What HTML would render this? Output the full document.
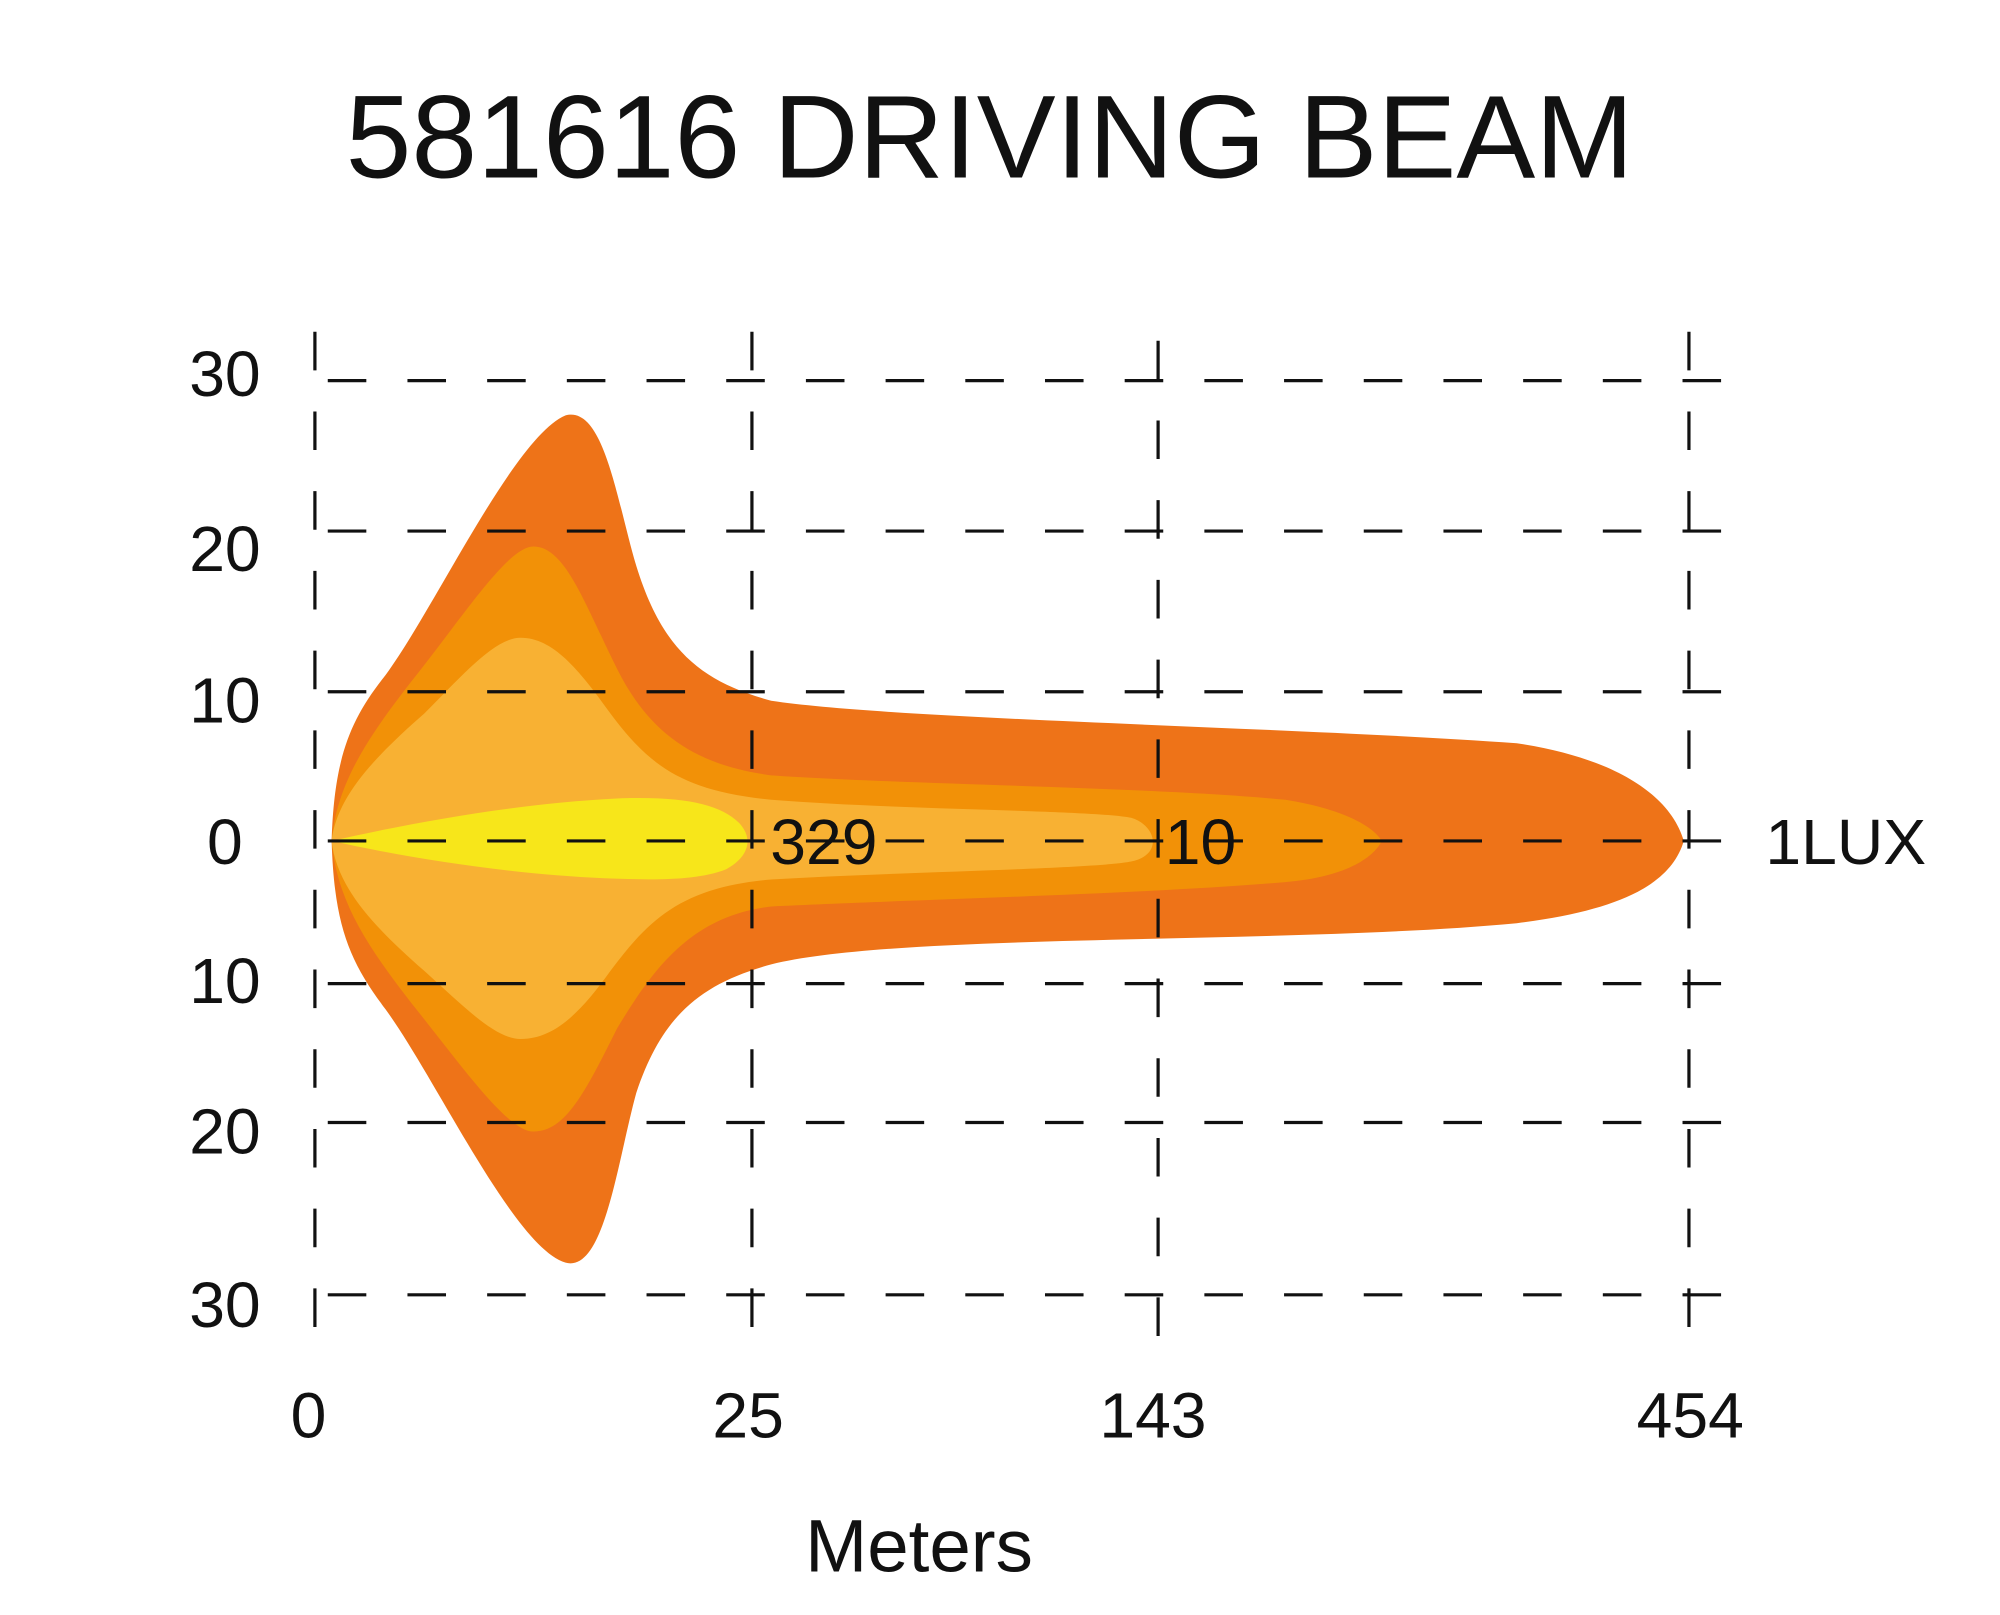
<!DOCTYPE html>
<html><head><meta charset="utf-8"><style>
html,body{margin:0;padding:0;background:#fff;}
svg{display:block;}
text{font-family:"Liberation Sans",sans-serif;fill:#111;}
</style></head><body>
<svg width="2000" height="1615" viewBox="0 0 1556 1256" preserveAspectRatio="none">
<rect width="1556" height="1256" fill="#fff"/>
<text x="770" y="138" font-size="92" text-anchor="middle">581616 DRIVING  BEAM</text>

<path fill="#EE7318" d="M258,654 C260,590 272,560 300,525 C340,470 400,340 440,323 C470,315 480,390 495,440 C515,505 545,530 600,545 C700,560 1000,565 1180,578 C1260,590 1300,620 1310,654 C1300,688 1260,708 1180,718 C1000,735 700,725 600,750 C545,765 515,790 495,850 C480,905 470,990 440,982 C400,970 340,840 300,785 C272,748 260,720 258,654 Z"/>
<path fill="#F29107" d="M258,654 C262,610 285,575 320,530 C360,480 395,425 415,425 C440,425 455,470 480,520 C505,570 540,595 600,603 C700,610 900,612 1000,622 C1050,630 1070,645 1075,654 C1070,665 1050,682 1000,686 C900,695 700,700 600,705 C540,712 510,750 480,800 C455,850 440,880 415,880 C395,880 360,830 320,780 C285,735 262,700 258,654 Z"/>
<path fill="#F8B133" d="M258,654 C262,620 290,590 330,555 C360,525 385,496 405,496 C430,496 450,520 475,555 C505,595 530,615 600,622 C700,630 850,630 880,636 C900,642 905,665 880,670 C850,676 700,678 600,684 C530,690 505,715 475,755 C450,790 430,808 405,808 C385,808 360,782 330,755 C290,720 262,690 258,654 Z"/>
<path fill="#F7E61A" d="M258,654 C320,640 400,625 480,621 C530,619 560,625 575,640 C588,654 580,668 565,676 C540,686 500,684 470,683 C400,680 320,668 258,654 Z"/>

<g stroke="#111" stroke-width="2.5" stroke-dasharray="30,32" fill="none">
<line x1="255" y1="296" x2="1342" y2="296"/>
<line x1="255" y1="413" x2="1342" y2="413"/>
<line x1="255" y1="538" x2="1342" y2="538"/>
<line x1="255" y1="654" x2="1342" y2="654"/>
<line x1="255" y1="765" x2="1342" y2="765"/>
<line x1="255" y1="873" x2="1342" y2="873"/>
<line x1="255" y1="1007" x2="1342" y2="1007"/>
<line x1="245" y1="258" x2="245" y2="1032"/>
<line x1="585" y1="258" x2="585" y2="1032"/>
<line x1="901" y1="265" x2="901" y2="1040"/>
<line x1="1314" y1="258" x2="1314" y2="1032"/>
</g>

<g font-size="50" text-anchor="middle">
<text x="175" y="308">30</text>
<text x="175" y="444">20</text>
<text x="175" y="562">10</text>
<text x="175" y="672">0</text>
<text x="175" y="780">10</text>
<text x="175" y="897">20</text>
<text x="175" y="1032">30</text>
<text x="240" y="1118">0</text>
<text x="582" y="1118">25</text>
<text x="897" y="1118">143</text>
<text x="1315" y="1118">454</text>
<text x="641" y="672">329</text>
<text x="934" y="672">10</text>
<text x="1436" y="672">1LUX</text>
</g>
<text x="715" y="1222" font-size="58" text-anchor="middle">Meters</text>
</svg>
</body></html>
